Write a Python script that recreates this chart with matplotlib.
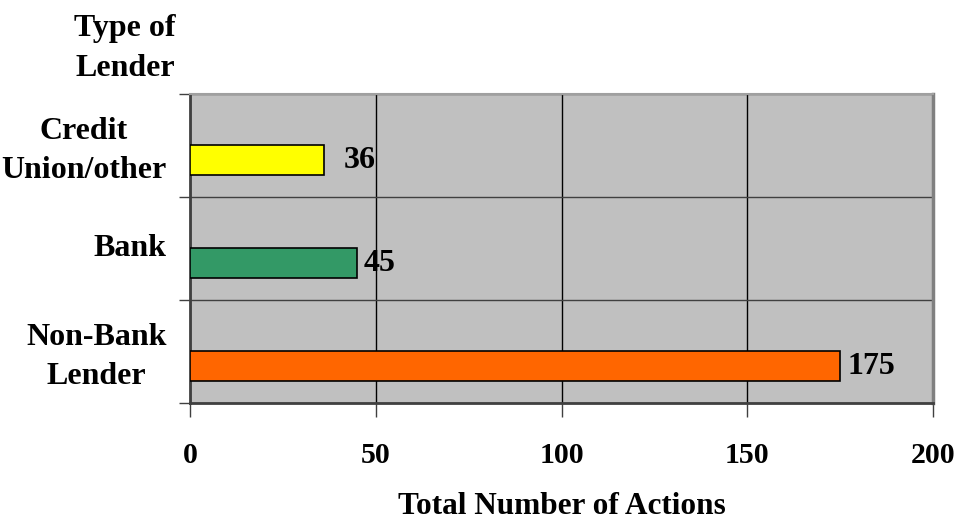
import matplotlib
matplotlib.use('agg')
from matplotlib import pyplot as plt
from matplotlib.transforms import ScaledTranslation
import numpy as np

lenders = ['Non-Bank\nLender', 'Bank', 'Credit\nUnion/other']
actions = [175, 45, 36]
bar_colors = ['#FF6600', '#339966', '#FFFF00']
x_ticks = [0, 50, 100, 150, 200]

plt.rcParams['font.family'] = ['Liberation Serif', 'DejaVu Serif']
plt.rcParams['font.weight'] = 'bold'
FS = 23

fig = plt.figure(figsize=(9.55, 5.24), dpi=100)
ax = fig.add_axes([0.199, 0.231, 0.778, 0.590])
ax.set_facecolor('#C0C0C0')

pos = np.arange(len(lenders))
# bars sit a little below the middle of each category band
bar_y = pos - 0.145
ax.barh(bar_y, actions, height=0.29, color=bar_colors,
        edgecolor='black', linewidth=1.2, zorder=3)

# gap (pixels) between bar end and its value label
label_gap = [7, 6, 20]
for y, v, gap in zip(bar_y, actions, label_gap):
    ax.annotate(str(v), (v, y), xytext=(gap, 0), textcoords='offset pixels',
                va='center', ha='left', fontsize=FS, fontweight='bold')

ax.set_xlim(0, 200)
ax.set_ylim(-0.5, len(lenders) - 0.5)
ax.set_xticks(x_ticks)
ax.set_xticklabels([str(t) for t in x_ticks], fontsize=21.5, fontweight='bold')
ax.tick_params(axis='x', length=10, width=1, color='#404040', pad=18)

# category bands: ticks on the boundaries, labels in the middle
ax.set_yticks(np.arange(len(lenders) + 1) - 0.5)
ax.set_yticklabels([])
ax.set_yticks(pos, minor=True)
ax.set_yticklabels(lenders, minor=True, fontsize=FS, fontweight='bold',
                   multialignment='center', linespacing=1.45)
ax.tick_params(axis='y', which='major', length=8, width=1, color='#404040')
ax.tick_params(axis='y', which='minor', length=0, pad=17)
nudge = ScaledTranslation(0, 3 / 100, fig.dpi_scale_trans)
for lbl in ax.get_yticklabels(minor=True):
    lbl.set_transform(lbl.get_transform() + nudge)

ax.grid(axis='x', color='black', linewidth=1, zorder=1)
ax.grid(axis='y', which='major', color='#404040', linewidth=1, zorder=1)
ax.set_axisbelow(True)

for side in ('left', 'bottom'):
    ax.spines[side].set_color('#404040')
    ax.spines[side].set_linewidth(2)
ax.spines['top'].set_color('#A0A0A0')
ax.spines['top'].set_linewidth(1.5)
ax.spines['right'].set_color('#808080')
ax.spines['right'].set_linewidth(2.5)

ax.set_xlabel('Total Number of Actions', fontsize=22.5, fontweight='bold',
              labelpad=17)
fig.text(0.131, 0.908, 'Type of\nLender', ha='center', va='center',
         fontsize=FS, fontweight='bold', linespacing=1.5)

fig.savefig('out.png', dpi=100)
